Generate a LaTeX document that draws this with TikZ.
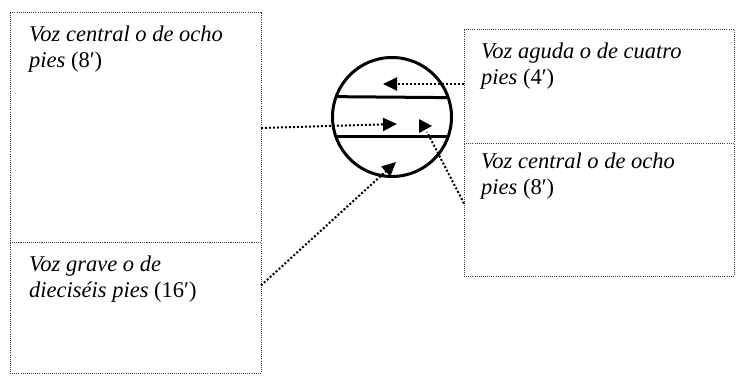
\documentclass[tikz,border=0pt]{standalone}
\usepackage{fontspec}
\setmainfont{Liberation Serif}
\usetikzlibrary{arrows.meta,calc}
\begin{document}
\begin{tikzpicture}[x=1pt,y=-1pt,
  box/.style={draw=black!75, line width=0.9pt, dash pattern=on 1pt off 1.1pt,
    inner sep=0pt, outer sep=0pt, anchor=north west},
  label/.style={anchor=base west, inner sep=0pt, align=left,
    font=\fontsize{22.5}{26}\selectfont},
  conn/.style={line width=2pt, dash pattern=on 2pt off 2pt},
  tip/.style={-{Triangle[length=14pt,width=13pt]}},
  ring/.style={circle, draw, line width=3pt, minimum size=119pt, inner sep=0pt, outer sep=0pt}]
\useasboundingbox (0,0) rectangle (737,377);
% boxes
\node[box, minimum width=251pt, minimum height=230pt] (lt) at (10,12) {};
\node[box, minimum width=251pt, minimum height=131pt] (lb) at (10,242) {};
\node[box, minimum width=270pt, minimum height=114pt] (rt) at (464,29) {};
\node[box, minimum width=270pt, minimum height=133pt] (rb) at (464,143) {};
% texts (anchor is the baseline of the last line)
\node[label] (tlt) at (29,68) {\textit{Voz central o de ocho}\\\textit{pies} (8′)};
\node[label] (tlb) at (29,297) {\textit{Voz grave o de}\\\textit{dieciséis pies} (16′)};
\node[label] (trt) at (481,85) {\textit{Voz aguda o de cuatro}\\\textit{pies} (4′)};
\node[label] (trb) at (481,195) {\textit{Voz central o de ocho}\\\textit{pies} (8′)};
% circle
\node[ring] (c) at (392,117) {};
\draw[line width=3pt] (c.160.9) -- (c.19.1);
\draw[line width=3pt] (c.199.1) -- (c.-19.1);
% target points
\coordinate (t1) at (383,84);
\coordinate (t2) at (397,124);
\coordinate (t3) at (427,132);
\coordinate (t4) at (396,162);
% connectors
\draw[conn, tip] ($(rt.west)+(0,-2)$) -- (t1);
\draw[conn, tip] ($(lt.east)+(0,1)$) -- (t2);
\draw[conn] ($(rb.west)+(0,-6)$) -- (t3);
\fill ($(t3)+(-8,-13)$) -- ($(t3)+(5,-6)$) -- ($(t3)+(-8,1)$) -- cycle;
\draw[conn, tip] ($(lb.east)+(0,-22)$) -- (t4);
\end{tikzpicture}
\end{document}
